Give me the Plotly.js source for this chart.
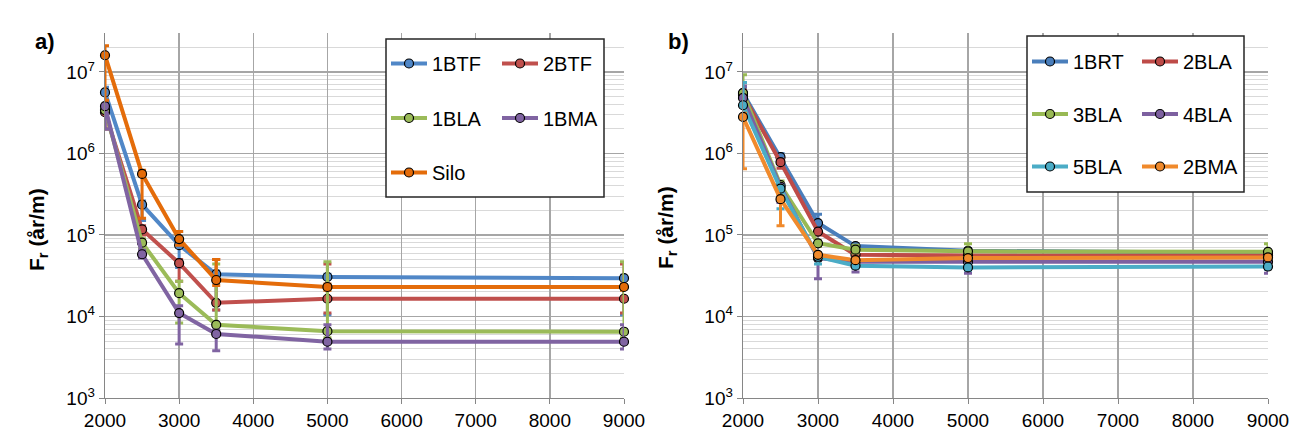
<!DOCTYPE html>
<html>
<head>
<meta charset="utf-8">
<script src="https://cdn.plot.ly/plotly-3.0.1.min.js"></script>
<style>html,body{margin:0;padding:0;background:#fff;}#chart{width:1291px;height:433px;}</style>
</head>
<body>
<div id="chart"></div>
<script>
// Shared x categories (m)
const xValues = [2000, 2500, 3000, 3500, 5000, 9000];

// Panel a) series values, upper and lower error bounds
const a_1BTF = [5.6e6, 2.35e5, 7.5e4, 3.3e4, 3.05e4, 2.95e4];
const a_1BTF_hi = [6.5e6, 2.6e5, 1.1e5, 3.6e4, 3.3e4, 3.2e4];
const a_1BTF_lo = [2.0e6, 1.5e5, 4.0e4, 1.2e4, 1.05e4, 1.05e4];
const a_2BTF = [3.2e6, 1.17e5, 4.5e4, 1.47e4, 1.65e4, 1.65e4];
const a_2BTF_hi = [3.6e6, 1.3e5, 5.0e4, 5.0e4, 4.4e4, 4.4e4];
const a_2BTF_lo = [2.0e6, 1.0e5, 2.7e4, 1.2e4, 1.1e4, 1.1e4];
const a_1BLA = [3.4e6, 8.05e4, 1.93e4, 7.9e3, 6.6e3, 6.5e3];
const a_1BLA_hi = [3.8e6, 9.0e4, 2.7e4, 4.4e4, 4.7e4, 4.7e4];
const a_1BLA_lo = [2.5e6, 7.0e4, 8.3e3, 6.5e3, 5.5e3, 5.5e3];
const a_1BMA = [3.8e6, 5.8e4, 1.1e4, 6.1e3, 4.9e3, 4.9e3];
const a_1BMA_hi = [4.2e6, 6.5e4, 1.35e4, 6.8e3, 7.9e3, 7.9e3];
const a_1BMA_lo = [2.0e6, 5.2e4, 4.6e3, 3.8e3, 4.0e3, 4.0e3];
const a_Silo = [1.6e7, 5.6e5, 8.9e4, 2.8e4, 2.3e4, 2.3e4];
const a_Silo_hi = [2.1e7, 6.2e5, 1.1e5, 5.0e4, 2.5e4, 2.5e4];
const a_Silo_lo = [4.5e6, 1.6e5, 7.5e4, 2.4e4, 2.1e4, 2.1e4];

// Panel b) series values, upper and lower error bounds
const b_1BRT = [5.5e6, 9.0e5, 1.4e5, 7.3e4, 6.4e4, 6.0e4];
const b_1BRT_hi = [6.5e6, 1.0e6, 1.8e5, 7.8e4, 6.8e4, 6.5e4];
const b_1BRT_lo = [5.0e6, 8.0e5, 1.3e5, 6.8e4, 6.0e4, 5.6e4];
const b_2BLA = [5.2e6, 7.8e5, 1.1e5, 5.7e4, 5.6e4, 5.6e4];
const b_2BLA_hi = [6.0e6, 8.5e5, 1.2e5, 6.0e4, 6.0e4, 6.0e4];
const b_2BLA_lo = [4.5e6, 6.6e5, 1.0e5, 5.3e4, 5.2e4, 5.2e4];
const b_3BLA = [5.5e6, 4.1e5, 7.9e4, 6.6e4, 6.3e4, 6.2e4];
const b_3BLA_hi = [9.2e6, 4.6e5, 8.5e4, 7.5e4, 7.8e4, 7.8e4];
const b_3BLA_lo = [5.0e6, 3.7e5, 7.2e4, 6.0e4, 5.8e4, 5.8e4];
const b_4BLA = [4.8e6, 3.9e5, 5.2e4, 4.7e4, 4.7e4, 4.7e4];
const b_4BLA_hi = [6.7e6, 4.2e5, 5.6e4, 5.0e4, 5.0e4, 5.0e4];
const b_4BLA_lo = [4.3e6, 2.5e5, 2.9e4, 3.5e4, 3.4e4, 3.4e4];
const b_5BLA = [3.9e6, 3.7e5, 5.4e4, 4.2e4, 4.0e4, 4.1e4];
const b_5BLA_hi = [7.4e6, 4.0e5, 5.8e4, 4.5e4, 4.3e4, 4.4e4];
const b_5BLA_lo = [3.5e6, 2.1e5, 4.4e4, 3.9e4, 3.7e4, 3.8e4];
const b_2BMA = [2.8e6, 2.75e5, 5.7e4, 4.9e4, 5.2e4, 5.3e4];
const b_2BMA_hi = [3.1e6, 3.0e5, 6.0e4, 5.2e4, 5.5e4, 5.6e4];
const b_2BMA_lo = [6.5e5, 1.3e5, 5.3e4, 4.6e4, 4.9e4, 5.0e4];

// Axis tick labels and titles
const yTickVals = [1e3, 1e4, 1e5, 1e6, 1e7];
const yTickText = ['10<sup>3</sup>', '10<sup>4</sup>', '10<sup>5</sup>', '10<sup>6</sup>', '10<sup>7</sup>'];
const xTickVals = [2000, 3000, 4000, 5000, 6000, 7000, 8000, 9000];
const yTitle = 'F<sub>r</sub> (år/m)';

const FONT = 'Liberation Sans, Arial, sans-serif';
const W = 1291, H = 433;

function mk(name, y, hi, lo, color, xa, ya, leg) {
  return {
    x: xValues, y: y, name: name, type: 'scatter', mode: 'lines+markers',
    xaxis: xa, yaxis: ya, legend: leg, legendgroup: name, cliponaxis: false,
    line: {color: color, width: 4},
    marker: {color: color, size: 9, line: {color: '#000', width: 1.2}},
    error_y: {type: 'data', symmetric: false,
      array: hi.map((h, i) => h - y[i]),
      arrayminus: lo.map((l, i) => y[i] - l),
      color: color, thickness: 3, width: 4}
  };
}

const traces = [
  mk('1BTF', a_1BTF, a_1BTF_hi, a_1BTF_lo, '#5087C7', 'x', 'y', 'legend'),
  mk('2BTF', a_2BTF, a_2BTF_hi, a_2BTF_lo, '#C0504D', 'x', 'y', 'legend2'),
  mk('1BLA', a_1BLA, a_1BLA_hi, a_1BLA_lo, '#9BBB59', 'x', 'y', 'legend'),
  mk('1BMA', a_1BMA, a_1BMA_hi, a_1BMA_lo, '#8064A2', 'x', 'y', 'legend2'),
  mk('Silo', a_Silo, a_Silo_hi, a_Silo_lo, '#E46C0A', 'x', 'y', 'legend'),
  mk('1BRT', b_1BRT, b_1BRT_hi, b_1BRT_lo, '#4A7EBB', 'x2', 'y2', 'legend3'),
  mk('2BLA', b_2BLA, b_2BLA_hi, b_2BLA_lo, '#BE4B48', 'x2', 'y2', 'legend4'),
  mk('3BLA', b_3BLA, b_3BLA_hi, b_3BLA_lo, '#98B954', 'x2', 'y2', 'legend3'),
  mk('4BLA', b_4BLA, b_4BLA_hi, b_4BLA_lo, '#7D60A0', 'x2', 'y2', 'legend4'),
  mk('5BLA', b_5BLA, b_5BLA_hi, b_5BLA_lo, '#4BACC6', 'x2', 'y2', 'legend3'),
  mk('2BMA', b_2BMA, b_2BMA_hi, b_2BMA_lo, '#F08A2C', 'x2', 'y2', 'legend4')
];

const yDomain = [(H - 398) / H, (H - 33) / H];
function xAxis(domain, anchor) {
  return {
    domain: domain, anchor: anchor, range: [2000, 9000], tickvals: xTickVals,
    showgrid: true, gridcolor: '#a6a6a6', gridwidth: 1.3,
    showline: true, linecolor: '#868686', linewidth: 1.3,
    ticks: 'outside', ticklen: 5, tickcolor: '#868686',
    tickfont: {family: FONT, size: 19, color: '#000'}, zeroline: false,
    automargin: false, ticklabeloverflow: 'allow'
  };
}
function yAxis(domain, anchor) {
  return {
    domain: domain, anchor: anchor, type: 'log', range: [3, Math.log10(3e7)],
    tickvals: yTickVals, ticktext: yTickText,
    showgrid: true, gridcolor: '#a6a6a6', gridwidth: 1.3,
    minor: {dtick: 'D1', showgrid: true, gridcolor: '#d9d9d9', gridwidth: 1},
    showline: true, linecolor: '#868686', linewidth: 1.3,
    ticks: 'outside', ticklen: 5, tickcolor: '#868686',
    tickfont: {family: FONT, size: 19, color: '#000'}, zeroline: false,
    automargin: false, ticklabeloverflow: 'allow'
  };
}

function leg(xpx, ypx, gap) {
  return {x: xpx / W, y: 1 - ypx / H, xanchor: 'left', yanchor: 'top',
    bgcolor: 'rgba(0,0,0,0)', borderwidth: 0, tracegroupgap: gap, itemwidth: 36,
    font: {family: FONT, size: 20, color: '#000'}};
}

const titleFont = {family: FONT, size: 21, color: '#000', weight: 'bold'};

const layout = {
  width: W, height: H, margin: {l: 0, r: 0, t: 0, b: 0},
  paper_bgcolor: '#fff', plot_bgcolor: '#fff', showlegend: true,
  xaxis: xAxis([105 / W, 624 / W], 'y'),
  yaxis: yAxis(yDomain, 'x'),
  xaxis2: xAxis([743 / W, 1268 / W], 'y2'),
  yaxis2: yAxis(yDomain, 'x2'),
  legend: leg(386, 44, 25.5),
  legend2: leg(497, 44, 25.5),
  legend3: leg(1027, 42, 23.5),
  legend4: leg(1137, 42, 23.5),
  shapes: [
    {type: 'rect', xref: 'paper', yref: 'paper', layer: 'above',
      x0: 386 / W, x1: 604 / W, y0: 1 - 197 / H, y1: 1 - 39 / H,
      line: {color: '#262626', width: 1.5}, fillcolor: '#fff'},
    {type: 'rect', xref: 'paper', yref: 'paper', layer: 'above',
      x0: 1027 / W, x1: 1244 / W, y0: 1 - 192 / H, y1: 1 - 36 / H,
      line: {color: '#262626', width: 1.5}, fillcolor: '#fff'}
  ],
  annotations: [
    {text: 'a)', xref: 'paper', yref: 'paper', x: 33 / W, y: 1 - 27 / H,
      showarrow: false, font: {family: FONT, size: 22, color: '#000', weight: 'bold'}},
    {text: 'b)', xref: 'paper', yref: 'paper', x: 678 / W, y: 1 - 27 / H,
      showarrow: false, font: {family: FONT, size: 22, color: '#000', weight: 'bold'}},
    {text: yTitle, xref: 'paper', yref: 'paper', x: 23 / W, y: 1 - 230 / H,
      textangle: -90, showarrow: false, font: titleFont},
    {text: yTitle, xref: 'paper', yref: 'paper', x: 667 / W, y: 1 - 228 / H,
      textangle: -90, showarrow: false, font: titleFont}
  ]
};

Plotly.newPlot('chart', traces, layout, {displayModeBar: false, staticPlot: true});
</script>
</body>
</html>
